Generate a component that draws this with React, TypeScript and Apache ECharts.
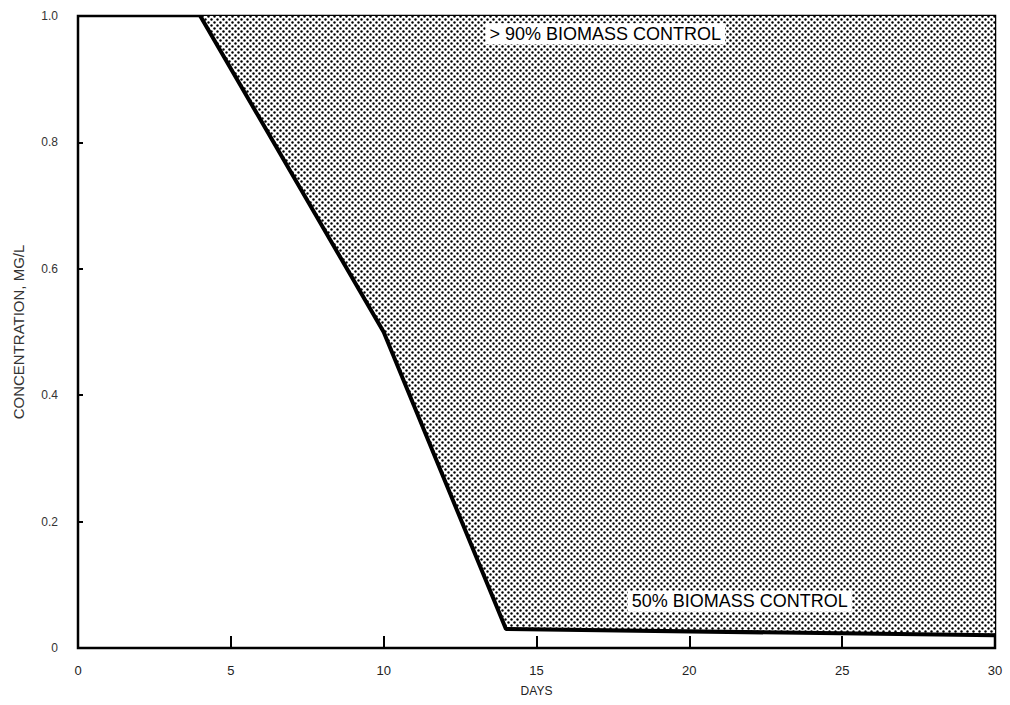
import React, { useEffect, useRef } from "react";
import * as echarts from "echarts";

const days = [4, 10, 14, 30];
const concentration = [1.0, 0.5, 0.03, 0.02];
const xTicks = [0, 5, 10, 15, 20, 25, 30];
const yTicks = [0, 0.2, 0.4, 0.6, 0.8, 1.0];
const zoneLabels = ["> 90% BIOMASS CONTROL", "50% BIOMASS CONTROL"];
const zoneLabelX = [17.25, 21.65];
const zoneLabelY = [0.972, 0.074];

const dotSvg =
  "data:image/svg+xml;charset=utf-8," +
  encodeURIComponent(
    '<svg xmlns="http://www.w3.org/2000/svg" width="6" height="6"><rect width="6" height="6" fill="#ffffff"/><circle cx="1.5" cy="1.5" r="1.2" fill="#000"/><circle cx="4.5" cy="4.5" r="1.2" fill="#000"/></svg>'
  );

export default function App() {
  const ref = useRef<HTMLDivElement>(null);
  useEffect(() => {
    if (!ref.current) return;
    const chart = echarts.init(ref.current, null, { renderer: "svg" });
    const font = "'Liberation Sans', Arial, sans-serif";
    chart.setOption({
      animation: false,
      backgroundColor: "#ffffff",
      grid: {
        left: 78,
        right: 15,
        top: 16,
        bottom: 57,
        show: true,
        borderColor: "#000",
        borderWidth: 2.5,
        backgroundColor: "transparent",
      },
      xAxis: {
        type: "value",
        min: 0,
        max: 30,
        interval: 5,
        name: "DAYS",
        nameLocation: "middle",
        nameGap: 37,
        nameTextStyle: { fontFamily: font, fontSize: 12, color: "#222" },
        axisLine: { show: true, lineStyle: { color: "#000", width: 2 } },
        axisTick: {
          show: true,
          inside: true,
          length: 12,
          lineStyle: { color: "#000", width: 2 },
        },
        axisLabel: {
          fontFamily: font,
          fontSize: 13,
          color: "#222",
          margin: 16,
          formatter: (v: number) => (xTicks.includes(v) ? String(v) : ""),
        },
        splitLine: { show: false },
      },
      yAxis: {
        type: "value",
        min: 0,
        max: 1,
        interval: 0.2,
        name: "CONCENTRATION, MG/L",
        nameLocation: "middle",
        nameGap: 52,
        nameTextStyle: { fontFamily: font, fontSize: 15, color: "#333" },
        axisLine: { show: true, lineStyle: { color: "#000", width: 2 } },
        axisTick: {
          show: true,
          inside: true,
          length: 5,
          lineStyle: { color: "#000", width: 2 },
        },
        axisLabel: {
          fontFamily: font,
          fontSize: 12,
          color: "#333",
          margin: 20,
          formatter: (v: number) => {
            const t = yTicks.find((y) => Math.abs(y - v) < 1e-9);
            if (t === undefined) return "";
            return t === 0 ? "0" : t.toFixed(1);
          },
        },
        splitLine: { show: false },
      },
      series: [
        {
          type: "line",
          data: days.map((d, i) => [d, concentration[i]]),
          symbol: "none",
          lineStyle: { color: "#000", width: 4 },
          areaStyle: {
            origin: "end",
            opacity: 1,
            color: {
              image: dotSvg,
              repeat: "repeat",
              imageWidth: 6,
              imageHeight: 6,
            } as any,
          },
          z: 2,
        },
        {
          type: "scatter",
          data: zoneLabels.map((t, i) => ({
            value: [zoneLabelX[i], zoneLabelY[i]],
            name: t,
          })),
          symbolSize: 2,
          itemStyle: { color: "rgba(0,0,0,0)" },
          label: {
            show: true,
            position: "inside",
            formatter: (p: any) => p.name,
            fontFamily: font,
            fontSize: 18,
            color: "#000",
            opacity: 1,
            backgroundColor: "#ffffff",
            padding: [2, 4, 1, 4],
          },
          z: 5,
        },
      ],
    });
    return () => chart.dispose();
  }, []);
  return (
    <div
      ref={ref}
      style={{ position: "fixed", left: 0, top: 0, width: 1010, height: 705 }}
    />
  );
}
